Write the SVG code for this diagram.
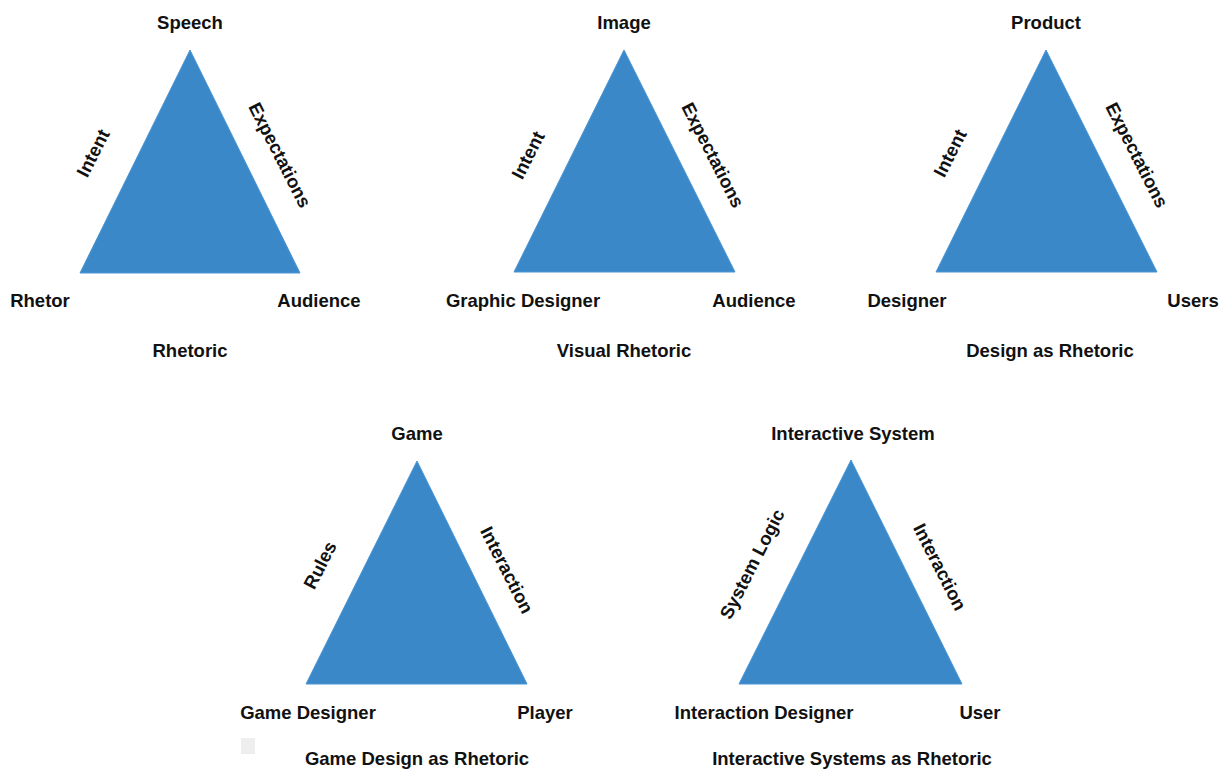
<svg xmlns="http://www.w3.org/2000/svg" width="1227" height="769" viewBox="0 0 1227 769">
<style>
text{font-family:"Liberation Sans",Arial,Helvetica,sans-serif;font-weight:bold;font-size:18.5px;fill:#111;text-anchor:middle}
.tri{fill:#3b88c9;stroke:#4a95d4;stroke-width:1}
</style>
<rect width="1227" height="769" fill="#fff"/>
<rect x="241" y="738" width="14" height="16" fill="#eeeeee"/>
<g id="connectors"></g>
<g id="rhetoric">
<polygon class="tri" points="190,50 80,273 300,273"/>
<text x="190" y="29">Speech</text>
<text x="93" y="153" dy="0.35em" transform="rotate(-63 93 153)">Intent</text>
<text x="280" y="155" dy="0.35em" transform="rotate(63 280 155)">Expectations</text>
<text x="40" y="307">Rhetor</text>
<text x="319" y="307">Audience</text>
<text x="190" y="357">Rhetoric</text>
</g>
<g id="visual-rhetoric">
<polygon class="tri" points="624,50 514,272 735,272"/>
<text x="624" y="29">Image</text>
<text x="528" y="155" dy="0.35em" transform="rotate(-63 528 155)">Intent</text>
<text x="713" y="155" dy="0.35em" transform="rotate(63 713 155)">Expectations</text>
<text x="523" y="307">Graphic Designer</text>
<text x="754" y="307">Audience</text>
<text x="624" y="357">Visual Rhetoric</text>
</g>
<g id="design-rhetoric">
<polygon class="tri" points="1046,50 936,272 1157,272"/>
<text x="1046" y="29">Product</text>
<text x="950" y="153" dy="0.35em" transform="rotate(-63 950 153)">Intent</text>
<text x="1137" y="155" dy="0.35em" transform="rotate(63 1137 155)">Expectations</text>
<text x="907" y="307">Designer</text>
<text x="1193" y="307">Users</text>
<text x="1050" y="357">Design as Rhetoric</text>
</g>
<g id="game-design-rhetoric">
<polygon class="tri" points="417,461 306,684 527,684"/>
<text x="417" y="440">Game</text>
<text x="320" y="565" dy="0.35em" transform="rotate(-63 320 565)">Rules</text>
<text x="507" y="570" dy="0.35em" transform="rotate(63 507 570)">Interaction</text>
<text x="308" y="719">Game Designer</text>
<text x="545" y="719">Player</text>
<text x="417" y="765">Game Design as Rhetoric</text>
</g>
<g id="interactive-systems-rhetoric">
<polygon class="tri" points="851,460 739,684 962,684"/>
<text x="853" y="440">Interactive System</text>
<text x="752" y="564" dy="0.35em" transform="rotate(-63 752 564)">System Logic</text>
<text x="940" y="567" dy="0.35em" transform="rotate(63 940 567)">Interaction</text>
<text x="764" y="719">Interaction Designer</text>
<text x="980" y="719">User</text>
<text x="852" y="765">Interactive Systems as Rhetoric</text>
</g>
</svg>
